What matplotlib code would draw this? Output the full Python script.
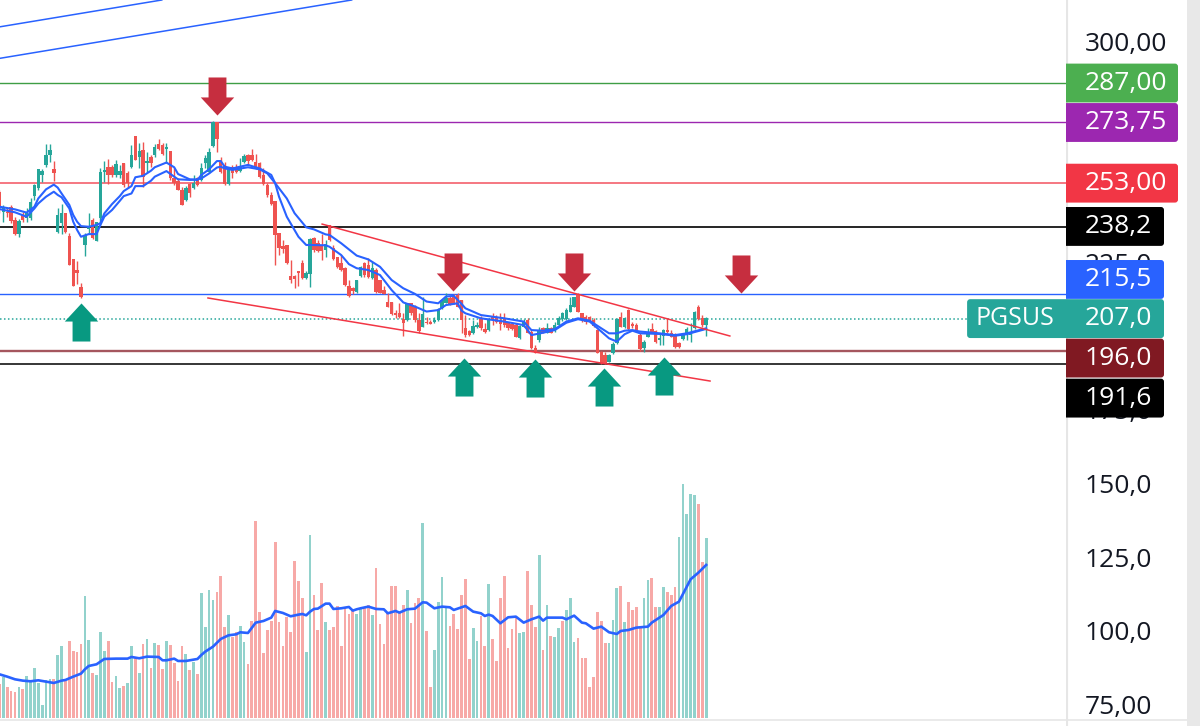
import matplotlib
matplotlib.use("Agg")
import matplotlib.pyplot as plt
from matplotlib.patches import FancyBboxPatch
from matplotlib.path import Path

#Candles
opens = [250.1,243.3,243.3,244.8,240.5,235.6,242.2,241.0,241.0,248.6,251.2,255.8,259.2,262.6,257.8,236.5,239.4,242.7,235.1,227.2,
         223.5,217.8,232.0,237.3,240.5,233.5,241.0,256.9,258.6,258.4,255.8,255.8,259.7,256.3,258.4,269.0,261.8,264.2,259.7,261.8,
         262.6,266.3,266.0,264.5,264.0,254.6,253.8,250.7,247.3,252.7,251.2,254.6,254.1,260.0,256.9,265.7,273.7,260.3,259.2,252.7,
         258.6,258.6,257.2,260.3,262.6,262.6,260.3,259.7,255.8,252.4,249.0,246.9,236.0,231.7,232.0,221.5,221.5,223.2,225.8,220.7,
         222.2,234.3,232.6,232.0,230.3,238.8,230.9,228.0,225.8,224.1,218.1,217.3,216.2,221.5,225.8,225.2,220.7,223.5,220.1,216.7,
         212.8,212.5,209.0,209.0,206.8,206.5,212.2,211.1,206.5,204.3,206.0,206.0,206.0,206.5,210.5,212.4,213.9,214.2,215.0,213.3,
         203.7,202.8,202.2,204.3,206.8,203.4,203.1,207.4,207.4,206.5,206.8,205.4,205.0,204.8,200.3,204.3,206.5,202.6,197.1,199.7,
         203.7,202.2,203.7,203.1,204.8,206.8,206.8,209.4,211.1,215.4,209.0,207.4,207.4,206.5,203.1,195.8,194.6,192.4,195.2,198.6,
         207.4,204.3,209.9,205.2,204.8,201.4,196.9,200.9,203.4,202.9,199.7,201.2,203.1,202.2,201.7,198.6,200.0,201.4,201.4,203.7,
         211.1,207.1,204.8]
highs = [250.7,245.6,244.4,245.6,241.6,240.7,243.3,244.4,247.8,252.7,257.8,257.7,266.3,266.3,260.5,244.4,245.8,242.7,236.2,227.2,
         226.6,219.0,236.0,242.7,241.3,239.7,258.2,260.5,261.2,259.2,260.9,259.2,259.7,257.2,266.0,269.0,266.5,266.9,263.7,262.6,
         266.3,267.9,266.5,266.5,264.0,258.0,254.6,251.8,252.0,253.2,255.8,255.2,259.7,262.6,264.8,274.2,273.7,262.0,260.3,258.6,
         259.2,259.5,261.4,262.9,262.9,264.5,262.9,260.3,258.0,252.9,250.1,246.9,236.0,233.7,232.0,226.9,221.8,223.3,226.9,223.3,
         234.3,234.6,233.7,235.7,233.7,238.8,232.0,228.0,228.6,224.6,220.1,217.9,220.1,224.9,226.3,227.5,226.3,224.3,220.1,218.2,
         215.8,212.5,209.9,212.2,208.8,212.4,212.2,211.6,208.8,214.5,207.7,206.5,207.7,210.5,213.6,215.6,215.0,215.4,215.8,213.3,
         208.2,203.1,206.5,205.9,207.9,205.4,207.1,209.0,208.2,208.8,208.8,205.9,205.9,205.4,204.8,206.8,207.1,203.1,198.0,204.3,
         204.0,205.6,204.3,205.9,207.9,209.4,210.5,214.4,214.4,215.6,209.0,208.2,207.9,207.1,203.4,196.1,195.8,195.0,199.2,207.1,
         209.4,207.4,210.1,206.0,205.4,202.0,199.7,203.9,205.4,203.1,202.0,203.4,207.1,203.1,202.0,199.2,202.0,204.3,205.4,209.7,
         211.6,208.2,207.4]
lows = [242.7,239.9,241.6,239.4,235.4,234.6,239.9,239.9,240.5,247.3,250.7,253.5,258.6,260.3,253.8,236.0,235.7,236.2,225.2,218.1,
        218.8,213.9,228.4,236.0,233.9,233.5,238.8,253.5,252.7,255.2,255.2,254.6,251.6,251.2,258.0,260.9,258.0,251.6,256.9,258.6,
        262.0,264.2,262.6,259.7,254.1,252.4,250.7,245.6,247.0,248.2,250.9,252.0,253.8,258.0,256.3,265.4,263.7,256.3,252.5,252.4,
        254.6,256.3,256.9,259.7,259.2,260.6,257.7,254.6,252.4,248.4,245.6,225.2,228.6,229.2,225.5,219.0,217.3,218.2,220.3,220.3,
        217.9,229.7,229.7,226.9,227.8,233.4,226.9,224.3,223.3,218.1,214.5,215.4,215.8,221.3,221.3,220.7,220.3,215.8,215.6,215.2,
        210.8,208.2,207.1,207.3,201.1,206.3,208.2,206.0,202.2,204.0,205.2,205.1,205.4,206.3,210.3,212.2,211.6,212.0,210.8,202.0,
        200.9,201.1,201.8,203.7,203.1,202.2,202.9,204.8,205.4,203.1,204.3,203.1,203.1,200.6,200.0,204.0,202.0,196.6,195.2,199.2,
        202.0,202.0,202.0,202.6,204.3,206.3,206.5,209.1,210.8,209.1,206.0,205.2,206.0,204.3,195.2,191.6,191.6,192.1,195.0,198.4,
        204.0,203.7,203.1,203.7,202.6,196.1,195.8,200.6,202.2,198.8,198.0,198.0,202.2,200.6,197.0,197.0,199.7,199.7,199.2,203.5,
        206.5,204.3,201.1]
closes = [244.4,245.0,242.7,240.2,235.6,240.2,240.5,242.7,246.7,252.4,257.8,257.1,262.6,264.2,256.3,242.2,242.7,236.5,225.2,218.1,
          222.4,214.4,235.4,238.4,234.3,239.7,256.9,257.5,255.8,255.8,259.5,257.1,252.4,252.9,262.6,260.9,264.0,255.2,260.5,260.0,
          265.4,264.5,262.9,265.2,254.6,252.9,250.7,245.6,251.2,249.8,253.2,252.4,258.0,261.6,263.7,273.9,267.9,256.9,252.7,258.0,
          256.6,256.7,258.6,262.2,260.6,260.9,258.0,255.0,252.7,249.0,245.9,235.4,230.9,230.5,225.8,220.1,220.3,222.6,220.7,222.6,
          233.9,230.3,230.1,230.1,232.3,233.7,227.1,224.6,223.5,218.4,214.8,216.5,220.1,224.6,221.8,221.0,224.1,216.2,215.8,215.4,
          211.1,208.6,208.2,207.4,205.6,212.2,208.8,206.5,202.9,208.5,205.4,205.2,206.3,210.2,213.3,213.9,212.0,212.2,211.1,206.5,
          201.4,201.4,204.5,204.5,203.7,202.6,206.5,206.8,206.0,205.2,204.8,203.7,203.4,200.9,204.5,206.0,202.2,196.9,195.4,203.1,
          202.2,203.7,202.2,204.8,207.1,208.8,209.9,211.6,214.2,209.4,206.5,206.0,206.3,204.5,195.4,191.8,191.8,194.6,198.4,206.8,
          204.3,207.1,203.4,204.5,203.1,196.6,199.2,202.6,202.6,199.2,200.3,203.1,202.6,200.9,197.2,197.2,201.4,203.5,202.0,209.4,
          206.8,204.8,207.1]

#Two moving averages on the price, sparse vertices
fast_x = [0,4,7,9,10,12,14,15,16,18,19,20,21,23,25,26,27,29,31,32,34,35,37,39,40,43,45,46,49,51,52,54,56,57,58,
          60,64,67,70,71,74,76,79,81,84,85,88,92,95,98,101,104,107,110,113,115,117,119,120,124,130,135,137,140,143,146,149,152,155,157,159,161,163,165,170,174,177,182]
fast_ma = [245.0,244.1,243.0,245.0,247.8,250.9,252.5,251.5,249.5,245.6,242.2,239.9,238.4,238.2,238.8,239.4,242.7,245.9,248.6,250.3,252.0,255.0,255.5,257.2,258.4,260.0,258.4,256.1,254.3,254.1,255.8,257.7,260.5,260.5,258.6,
           258.0,259.2,258.0,255.8,253.0,247.8,242.8,238.0,237.3,235.6,235.4,232.6,228.4,227.1,224.6,220.1,217.3,215.4,212.8,212.2,214.5,214.7,212.0,210.5,208.2,207.1,206.0,203.1,202.9,203.4,206.0,207.1,206.3,203.7,202.0,202.0,202.9,203.1,202.6,202.0,201.4,202.0,203.7]
slow_x = [0,4,7,9,10,12,14,15,16,18,19,20,21,23,25,26,27,29,31,32,34,35,37,39,40,43,45,46,49,51,52,54,56,57,58,
          60,64,67,69,71,72,74,77,79,80,84,85,88,90,92,95,98,101,104,107,110,113,115,118,119,120,124,130,135,137,140,143,146,149,152,155,157,159,161,163,165,170,174,177,182]
slow_ma = [244.2,243.1,241.6,244.4,246.1,248.4,250.1,249.0,248.2,244.4,239.9,237.1,234.8,235.7,235.7,238.8,241.6,243.9,247.0,248.6,249.5,252.0,252.0,253.8,255.2,257.1,255.2,254.3,254.1,254.3,254.6,256.3,258.3,258.6,258.0,
           257.5,258.4,257.7,256.3,253.0,248.4,241.6,234.8,232.0,232.0,231.9,231.4,228.6,225.5,224.1,223.5,221.8,216.7,212.5,211.1,209.4,209.9,211.6,212.2,209.7,208.8,207.1,206.0,204.8,201.4,202.2,203.1,205.6,206.8,206.0,202.6,200.3,199.2,201.7,202.9,202.0,201.8,201.2,201.7,203.5]

#Volume, and which of the bars are the green ones
volumes = [103,125,95,82,79,93,87,128,112,151,107,40,116,119,119,191,217,112,232,201,199,223,367,235,136,130,259,202,231,108,
           127,91,98,106,217,180,136,223,237,150,225,221,149,232,221,165,113,217,193,144,170,132,375,274,386,354,380,427,274,310,
           245,260,278,229,163,292,591,318,197,265,292,530,288,216,303,259,472,411,360,199,551,371,265,407,289,265,274,337,216,330,
           313,323,313,327,333,340,310,451,283,223,315,396,396,320,339,386,286,346,360,587,263,93,206,349,424,335,277,313,269,371,
           418,178,271,232,307,216,402,238,172,362,426,210,267,307,257,259,442,340,275,491,206,340,246,244,271,293,325,360,229,242,
           182,180,93,125,320,293,225,227,295,392,396,288,348,324,333,270,362,415,422,334,334,394,379,370,394,545,703,612,673,670,
           644,469,540]
volume_green = [1,5,7,8,9,10,11,12,13,15,16,22,23,25,26,27,30,31,33,34,36,38,40,43,48,50,52,53,54,55,59,62,63,79,80,84,92,93,96,105,109,112,113,114,115,
                122,123,126,134,135,139,141,143,144,146,147,148,157,158,159,161,166,167,170,171,175,176,177,178,179,182]
volume_ma_x = [0,2,4,6,8,10,12,14,16,17,19,21,22,23,25,27,30,33,34,36,38,41,42,43,45,46,48,51,52,53,55,57,59,61,62,64,66,68,70,71,73,75,77,78,79,80,81,82,84,85,86,88,90,91,92,
               93,95,97,99,100,102,103,105,107,109,110,112,114,116,117,120,122,124,125,126,127,129,131,133,135,137,139,140,141,145,146,148,150,151,153,155,157,159,160,162,164,167,168,171,173,175,178,180,182]
volume_ma = [132,125,117,113,111,114,110,106,113,115,125,134,147,157,162,178,179,179,184,180,185,184,174,174,179,172,172,178,190,200,215,238,249,252,258,256,287,292,302,322,316,306,311,313,309,320,328,329,344,344,328,330,334,323,327,
             330,335,328,327,315,322,317,327,329,348,347,330,335,333,325,337,320,315,307,311,307,285,303,305,287,297,305,293,302,302,297,308,287,285,269,275,258,253,262,265,272,275,287,310,337,350,417,437,460]

#Levels and their tags on the price scale
level_prices = [287.0,273.75,253.0,238.2,215.5,196.0,191.6]
level_line_colors = ["#3F9E45","#9C27B0","#F4606C","#000000","#2962FF","#A5565E","#000000"]
level_line_widths = [1.0,1.0,1.2,1.2,1.0,1.7,1.1]
last_price = 207.0

tag_texts = ["287,00","273,75","253,00","238,2","215,5","207,0","196,0","191,6"]
tag_colors = ["#4CAF50","#9C27B0","#F23645","#000000","#2962FF","#26A69A","#801922","#000000"]
tag_prices = [287.0,273.6,253.0,238.3,220.3,207.0,193.6,180.0]
tag_right = [1178,1178,1178,1164,1164,1164,1164,1164]

axis_prices = [300,225,175,150,125,100,75]
axis_texts = ["300,00","225,0","175,0","150,0","125,0","100,0","75,00"]

#Drawn lines and arrows
trend_upper_x, trend_upper_y = [83.1,188.1], [239.1,201.1]
trend_lower_x, trend_lower_y = [53.7,183.0], [214.0,185.8]
blue_ray1_x, blue_ray1_y = [0.142,41.8], [306.1,315.2]
blue_ray2_x, blue_ray2_y = [0.142,90.7], [295.4,315.2]

sell_x, sell_y = [56.0,116.8,148.0,191.0], [282.6,222.8,222.8,222.1]
buy_x, buy_y = [21.0,119.6,137.9,155.7,171.1], [205.8,187.2,187.0,183.8,187.5]

UP, DOWN = "#26A69A", "#EF5350"
FONT = "Open Sans"

fig = plt.figure(figsize=(12,7.26), dpi=100)
ax = fig.add_axes([0,0,1066/1200,1])
ax.set_xlim(0.142,274.67)
ax.set_ylim(68.65,315.2)
ax.axis("off")

#Volume sits on its own scale at the bottom, behind the price
axv = ax.twinx()
axv.set_ylim(-23.1,2154.9)
axv.axis("off")
ax.set_zorder(axv.get_zorder()+1)
ax.patch.set_visible(False)

xs = list(range(len(closes)))
vol_colors = ["#92D2CC" if i in volume_green else "#F7A9A7" for i in xs]
axv.bar(xs, volumes, width=0.7, color=vol_colors, linewidth=0)
axv.plot(volume_ma_x, volume_ma, color="#2962FF", lw=1.9, solid_joinstyle="round")
axv.axhline(-5, color="#E6E6E6", lw=1.2)

#Horizontal levels
for p, c, w in zip(level_prices, level_line_colors, level_line_widths):
    ax.axhline(p, color=c, lw=w, zorder=1)
ax.axhline(last_price, color="#26A69A", lw=1.1, ls=(0,(1,1.6)), zorder=1)

ax.plot(blue_ray1_x, blue_ray1_y, color="#2962FF", lw=1.1, zorder=1)
ax.plot(blue_ray2_x, blue_ray2_y, color="#2962FF", lw=1.1, zorder=1)

#Candles
colors = [UP if c >= o else DOWN for o, c in zip(opens, closes)]
ax.vlines(xs, lows, highs, colors=colors, lw=1.0, zorder=2)
bottoms = [min(o, c) for o, c in zip(opens, closes)]
heights = [max(abs(o-c), 0.5) for o, c in zip(opens, closes)]
ax.bar(xs, heights, bottom=bottoms, width=0.88, color=colors, linewidth=0, zorder=3)

ax.plot(fast_x, fast_ma, color="#2962FF", lw=1.5, zorder=4)
ax.plot(slow_x, slow_ma, color="#2962FF", lw=1.5, zorder=4)

ax.plot(trend_upper_x, trend_upper_y, color="#F23645", lw=1.1, zorder=5)
ax.plot(trend_lower_x, trend_lower_y, color="#F23645", lw=1.1, zorder=5)

#Block arrows
up_arrow = Path([(0,1),(0.88,0.05),(0.47,0.05),(0.47,-1),(-0.47,-1),(-0.47,0.05),(-0.88,0.05),(0,1)], closed=True)
down_arrow = Path([(0,-1),(0.88,-0.05),(0.47,-0.05),(0.47,1),(-0.47,1),(-0.47,-0.05),(-0.88,-0.05),(0,-1)], closed=True)
ax.scatter(sell_x, sell_y, marker=down_arrow, s=750, color="#C62E3F", linewidths=0, zorder=6)
ax.scatter(buy_x, buy_y, marker=up_arrow, s=750, color="#089981", linewidths=0, zorder=6)

#Price scale panel
axs = fig.add_axes([1066/1200,0,134/1200,1])
axs.set_xlim(1066,1200)
axs.set_ylim(68.65,315.2)
axs.axis("off")
axs.axvline(1066.5, color="#E6E6E6", lw=1.5, zorder=1)
axs.axvspan(1187,1200, color="#E8E8E8", lw=0, zorder=1)
axs.hlines(70.7, 1066, 1187, color="#E6E6E6", lw=1.2, zorder=1)

for p, t in zip(axis_prices, axis_texts):
    axs.text(1085, p, t, color="#131722", fontsize=19, family=FONT, va="center", ha="left", zorder=2)

#Price tags, square on the left where they meet the chart
HALF = 6.6
for p, t, c, r in zip(tag_prices, tag_texts, tag_colors, tag_right):
    axs.add_patch(FancyBboxPatch((1060,p-HALF), r-1060, 2*HALF, boxstyle="round,pad=0,rounding_size=3",
                                 mutation_aspect=0.3396, fc=c, ec="none", zorder=3))
    axs.text(1085, p, t, color="white", fontsize=19, family=FONT, va="center", ha="left", zorder=4)

#Ticker tag sticks out over the chart
ax.add_patch(FancyBboxPatch((249.2,last_price-HALF), 30, 2*HALF, boxstyle="round,pad=0,rounding_size=0.8",
                            mutation_aspect=3.883*0.3396, fc="#26A69A", ec="none", zorder=7))
ax.text(261.6, last_price, "PGSUS", color="white", fontsize=18, family=FONT, va="center", ha="center", zorder=8)

fig.savefig("out.png", dpi=100, facecolor="white")
